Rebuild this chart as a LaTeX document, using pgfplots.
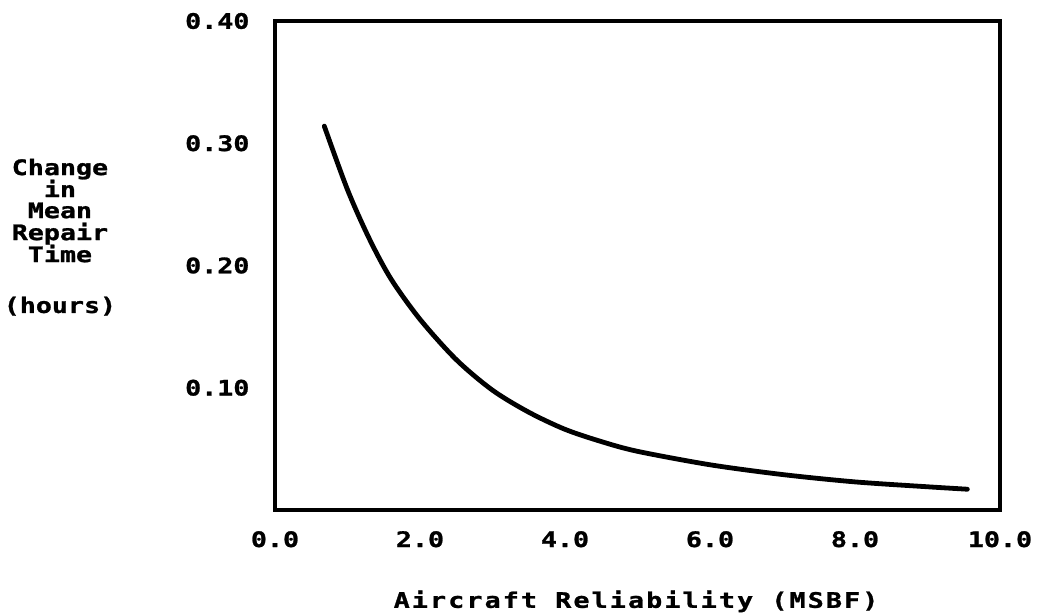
\documentclass[border=0pt]{standalone}
\usepackage{fontspec}
\setmainfont{DejaVu Sans Mono Bold}[FakeStretch=1.25, FakeBold=1.2]
\usepackage{pgfplots}
\pgfplotsset{compat=1.18}

\begin{document}
\fontsize{16}{19}\selectfont
\begin{tikzpicture}
% page = 1038x615 px at 0.75pt per px, axis box at (275,21)-(1000,510)
\useasboundingbox (-206.25pt,-78.75pt) rectangle (572.25pt,382.5pt);
\begin{axis}[
    scale only axis,
    width=543.75pt, height=366.75pt,
    xmin=0, xmax=10,
    ymin=0, ymax=0.4,
    xtick={0,2,4,6,8,10},
    ytick={0.1,0.2,0.3,0.4},
    major tick length=0pt,
    axis line style={line width=2.4pt},
    /pgf/number format/assume math mode=true,
    /pgf/number format/fixed,
    /pgf/number format/fixed zerofill,
    xticklabel style={/pgf/number format/precision=1, anchor=base, inner sep=0pt, yshift=-27.75pt},
    yticklabel style={/pgf/number format/precision=2, anchor=east, inner sep=0pt, xshift=-19pt},
    clip=false,
]
\addplot[black, line width=3.6pt, smooth, line cap=round] coordinates {
    (0.68,0.314) (1.00,0.262) (1.30,0.222) (1.60,0.189) (2.00,0.156)
    (2.50,0.123) (3.00,0.098) (3.50,0.080) (4.00,0.066) (4.50,0.056)
    (5.00,0.048) (6.00,0.037) (7.00,0.029) (8.00,0.023) (9.00,0.019)
    (9.55,0.017)
};
\node[anchor=base] at (rel axis cs:-0.2966,0.685) {Change};
\node[anchor=base] at (rel axis cs:-0.2966,0.640) {in};
\node[anchor=base] at (rel axis cs:-0.2966,0.597) {Mean};
\node[anchor=base] at (rel axis cs:-0.2966,0.552) {Repair};
\node[anchor=base] at (rel axis cs:-0.2966,0.507) {Time};
\node[anchor=base] at (rel axis cs:-0.2966,0.403) {(hours)};
\node[anchor=base] at (rel axis cs:0.498,-0.200) {\addfontfeature{LetterSpace=10}Aircraft Reliability (MSBF)};
\end{axis}
\end{tikzpicture}
\end{document}
